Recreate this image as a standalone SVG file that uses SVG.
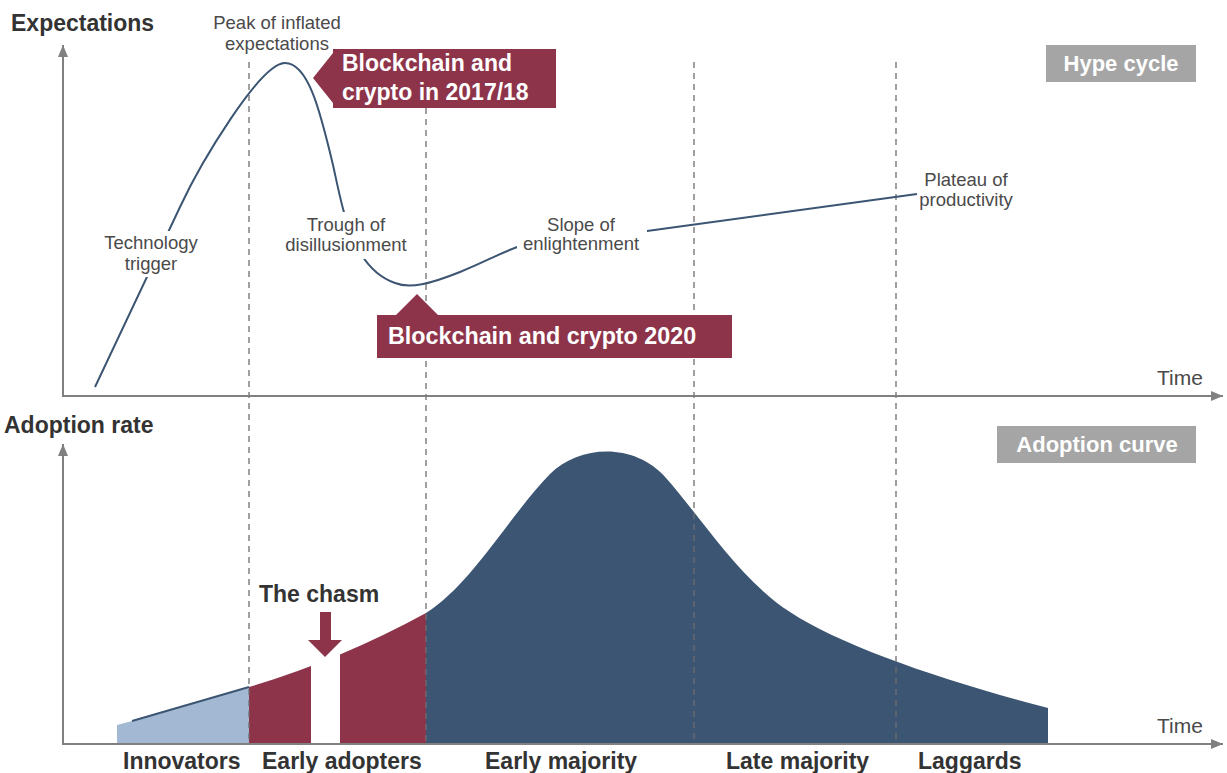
<svg xmlns="http://www.w3.org/2000/svg" width="1227" height="773" viewBox="0 0 1227 773">
  <style>
    .lbl { font-family: "Liberation Sans", Arial, sans-serif; font-size: 18.5px; fill: #4a4a4a; text-anchor: middle; }
    .time { font-family: "Liberation Sans", Arial, sans-serif; font-size: 21px; fill: #4a4a4a; }
    .title { font-family: "Liberation Sans", Arial, sans-serif; font-size: 23px; font-weight: bold; fill: #333333; }
    .cat { font-family: "Liberation Sans", Arial, sans-serif; font-size: 23px; font-weight: bold; fill: #333333; }
    .wbold { font-family: "Liberation Sans", Arial, sans-serif; font-weight: bold; fill: #ffffff; }
    .axis { stroke: #808080; stroke-width: 2; fill: none; }
    .dash { stroke: #6e6e6e; stroke-width: 1.3; stroke-dasharray: 6 5; fill: none; }
    .curve { stroke: #3b5572; stroke-width: 2; fill: none; }
    .maroon { fill: #8e344a; }
    .tag { fill: #a5a5a5; }
  </style>
  <defs>
    <marker id="arr" viewBox="0 0 12 10" refX="12" refY="5" markerWidth="12" markerHeight="10" markerUnits="userSpaceOnUse" orient="auto">
      <path d="M0,0 L12,5 L0,10 Z" fill="#808080"/>
    </marker>
  </defs>
  <rect width="1227" height="773" fill="#ffffff"/>

  <g id="adoption-areas">
    <polygon points="117,725 132,721 249,687 249,744 117,744" fill="#a3b9d3"/>
    <path d="M249,687 Q340,660 426,613 L426,744 L249,744 Z" fill="#8e344a"/>
    <rect x="311" y="640" width="29" height="104" fill="#ffffff"/>
    <path d="M426,613 C472,584 510,515 550,474 C580,445 634,442 666,478 C700,516 740,580 790,612 C840,645 940,680 1048,708 L1048,744 L426,744 Z" fill="#3b5572"/>
    <line x1="132" y1="721" x2="249" y2="687" stroke="#3b5572" stroke-width="2"/>
  </g>

  <g id="connectors">
    <line class="dash" x1="249" y1="62" x2="249" y2="744"/>
    <line class="dash" x1="426" y1="108" x2="426" y2="744"/>
    <line class="dash" x1="694" y1="62" x2="694" y2="744"/>
    <line class="dash" x1="896" y1="62" x2="896" y2="744"/>
    <line class="axis" x1="63" y1="396" x2="63" y2="45" marker-end="url(#arr)"/>
    <line class="axis" x1="62" y1="396" x2="1223" y2="396" marker-end="url(#arr)"/>
    <line class="axis" x1="63" y1="744" x2="63" y2="444" marker-end="url(#arr)"/>
    <line class="axis" x1="62" y1="744" x2="1223" y2="744" marker-end="url(#arr)"/>
    <path class="curve" d="M95,387 L180,207 C200,164 260,63 285,63 C308,63 320,110 333,165 C343,210 352,268 395,283 C410,289 430,284 460,272 C485,262 500,253 520,246 C565,236 610,236 647,231 L917,194"/>
  </g>

  <g id="axis-labels">
    <text class="title" x="11" y="31">Expectations</text>
    <text class="title" x="4" y="433">Adoption rate</text>
    <text class="time" x="1157" y="385">Time</text>
    <text class="time" x="1157" y="733">Time</text>
  </g>

  <g id="hype-labels">
    <text class="lbl" x="277" y="29">Peak of inflated</text>
    <text class="lbl" x="277" y="50">expectations</text>
    <rect x="100" y="231" width="104" height="46" fill="#ffffff"/>
    <text class="lbl" x="151" y="249">Technology</text>
    <text class="lbl" x="151" y="270">trigger</text>
    <rect x="283" y="212" width="126" height="47" fill="#ffffff"/>
    <text class="lbl" x="346" y="231">Trough of</text>
    <text class="lbl" x="346" y="251">disillusionment</text>
    <rect x="517" y="212" width="130" height="44" fill="#ffffff"/>
    <text class="lbl" x="581" y="231">Slope of</text>
    <text class="lbl" x="581" y="250">enlightenment</text>
    <text class="lbl" x="966" y="186">Plateau of</text>
    <text class="lbl" x="966" y="206">productivity</text>
  </g>

  <g id="tag-hype">
    <rect class="tag" x="1046" y="45" width="150" height="37"/>
    <text class="wbold" x="1121" y="71" font-size="22" text-anchor="middle">Hype cycle</text>
  </g>
  <g id="tag-adoption">
    <rect class="tag" x="997" y="426" width="199" height="37"/>
    <text class="wbold" x="1097" y="452" font-size="22" text-anchor="middle">Adoption curve</text>
  </g>

  <g id="callout-2017">
    <polygon class="maroon" points="313,78 333,53 333,49 556,49 556,108 333,108 333,103"/>
    <text class="wbold" x="342" y="71" font-size="23">Blockchain and</text>
    <text class="wbold" x="342" y="100" font-size="23">crypto in 2017/18</text>
  </g>
  <g id="callout-2020">
    <polygon class="maroon" points="417,294 438,315 732,315 732,358 377,358 377,315 396,315"/>
    <text class="wbold" x="388" y="344" font-size="23.3">Blockchain and crypto 2020</text>
  </g>

  <g id="chasm">
    <text class="title" x="259" y="602">The chasm</text>
    <polygon class="maroon" points="320,612 331,612 331,640 342,640 325,657 308,640 320,640"/>
  </g>

  <g id="categories">
    <text class="cat" x="123" y="769">Innovators</text>
    <text class="cat" x="262" y="769">Early adopters</text>
    <text class="cat" x="485" y="769">Early majority</text>
    <text class="cat" x="726" y="769">Late majority</text>
    <text class="cat" x="918" y="769">Laggards</text>
  </g>
</svg>
